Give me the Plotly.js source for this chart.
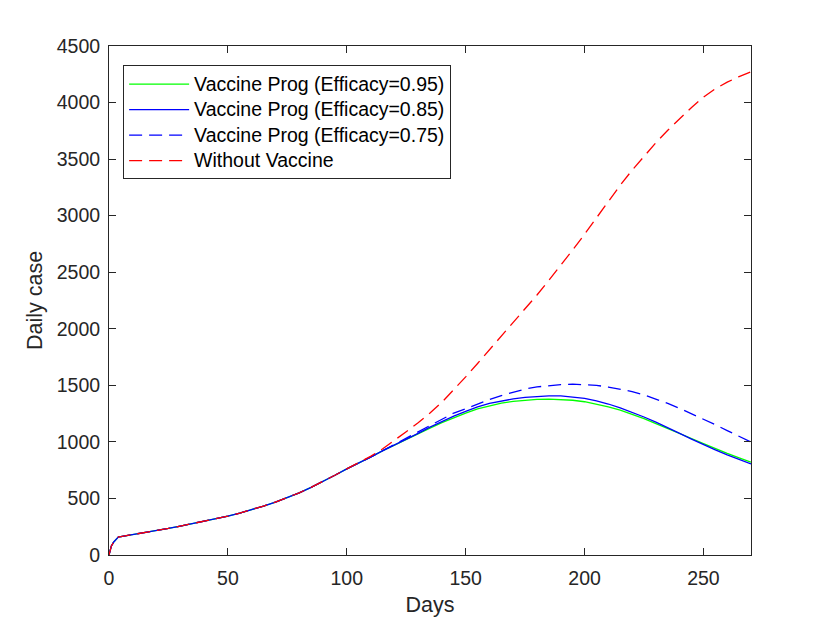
<!DOCTYPE html>
<html>
<head>
<meta charset="utf-8">
<script src="https://cdn.plot.ly/plotly-3.0.1.min.js"></script>
<style>html,body{margin:0;padding:0;background:#fff;}#chart{width:830px;height:623px;}</style>
</head>
<body>
<div id="chart"></div>
<script>
const days = [0,1,2,3,4,5,10,15,20,25,30,35,40,45,50,55,60,65,70,75,80,85,90,95,100,
  105,110,115,120,125,130,135,140,145,150,155,160,165,170,175,180,185,190,195,200,
  205,210,215,220,225,230,235,240,245,250,255,260,265,270];

const eff095 = [0,80,115,140,160,163,180,197,215,235,256,277,298,320,343,370,400,433,468,507,550,598,650,705,762,
  812,865,920,972,1018,1070,1122,1170,1215,1255,1292,1320,1342,1358,1368,1375,1378,1376,1368,1355,
  1335,1310,1280,1245,1205,1162,1120,1075,1030,985,940,898,858,820];

const eff085 = [0,80,115,140,160,163,180,197,215,235,256,277,298,320,343,370,400,433,468,507,550,598,650,705,762,
  812,865,920,972,1018,1075,1130,1180,1228,1270,1310,1340,1362,1380,1393,1402,1407,1406,1398,1385,
  1362,1335,1300,1262,1220,1175,1128,1075,1025,975,930,885,845,805];

const eff075 = [0,80,115,140,160,163,180,197,215,235,256,277,298,320,343,370,400,433,468,507,550,598,650,705,762,
  812,865,922,978,1035,1092,1150,1205,1255,1292,1335,1375,1410,1440,1467,1486,1498,1506,1510,1508,
  1500,1485,1468,1445,1415,1378,1340,1296,1250,1200,1152,1100,1050,998];

const noVaccine = [0,80,115,140,160,163,180,197,215,235,256,277,298,320,343,370,400,433,468,507,550,598,650,705,762,
  815,872,937,1010,1090,1170,1255,1350,1458,1575,1693,1814,1931,2049,2171,2299,2429,2561,2696,2836,
  2981,3129,3269,3402,3527,3645,3755,3859,3957,4047,4122,4180,4230,4272];

const names = ['Vaccine Prog (Efficacy=0.95)','Vaccine Prog (Efficacy=0.85)','Vaccine Prog (Efficacy=0.75)','Without Vaccine'];
const xTicks = [0,50,100,150,200,250];
const yTicks = [0,500,1000,1500,2000,2500,3000,3500,4000,4500];

const FONT = 'Liberation Sans, Arial, Helvetica, sans-serif';
const AX = '#262626';
const legendName = n => '<span style="font-size:19.5px">' + n + '</span>';

const traces = [
  {x: days, y: eff095, name: legendName(names[0]), mode: 'lines', line: {color: '#00FF00', width: 1.3}},
  {x: days, y: eff085, name: legendName(names[1]), mode: 'lines', line: {color: '#0000FF', width: 1.3}},
  {x: days, y: eff075, name: legendName(names[2]), mode: 'lines', line: {color: '#0000FF', width: 1.3, dash: '13px,7px'}},
  {x: days, y: noVaccine, name: legendName(names[3]), mode: 'lines', line: {color: '#FF0000', width: 1.3, dash: '13px,7px'}}
];

const axisCommon = {
  showgrid: false, zeroline: false, showline: true, linecolor: AX, linewidth: 1,
  mirror: 'allticks', ticks: 'inside', ticklen: 7, tickwidth: 1, tickcolor: AX,
  tickfont: {family: FONT, size: 19.5, color: AX}
};

const layout = {
  width: 830, height: 623,
  margin: {l: 108.5, r: 78.5, t: 45.5, b: 68, pad: 0},
  paper_bgcolor: '#fff', plot_bgcolor: '#fff',
  font: {family: FONT, color: AX},
  showlegend: true,
  xaxis: Object.assign({}, axisCommon, {
    range: [0, 270], tickvals: xTicks, ticktext: xTicks.map(String),
    ticklabelstandoff: 6,
    title: {text: 'Days', font: {family: FONT, size: 21.5, color: AX}, standoff: 8}
  }),
  yaxis: Object.assign({}, axisCommon, {
    range: [0, 4500], tickvals: yTicks, ticktext: yTicks.map(String),
    ticklabelstandoff: 4,
    title: {text: 'Daily case', font: {family: FONT, size: 21.5, color: AX}, standoff: 8}
  }),
  legend: {
    x: 0.022, y: 0.962, xanchor: 'left', yanchor: 'top',
    bgcolor: '#fff', bordercolor: AX, borderwidth: 1,
    font: {family: FONT, size: 17.3, color: '#000'},
    itemwidth: 60, tracegroupgap: 0
  }
};

Plotly.newPlot('chart', traces, layout, {staticPlot: true, displayModeBar: false});
</script>
</body>
</html>
